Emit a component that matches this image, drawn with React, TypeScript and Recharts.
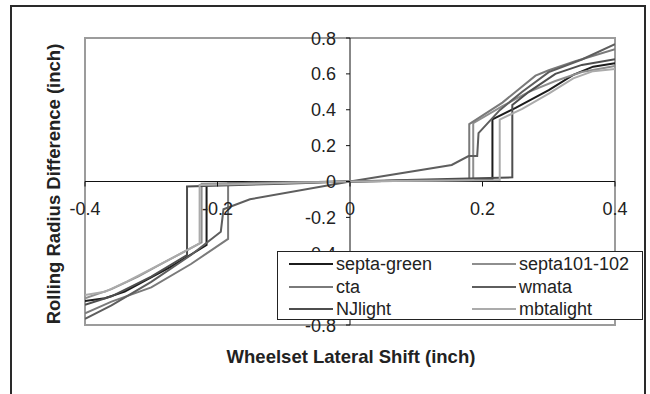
import React from 'react';
import { LineChart, Line, XAxis, YAxis, ReferenceLine, ReferenceArea } from 'recharts';

const xTicks = [-0.4, -0.2, 0, 0.2, 0.4];
const yTicks = [-0.8, -0.6, -0.4, -0.2, 0, 0.2, 0.4, 0.6, 0.8];

const seriesNames = ['septa-green', 'septa101-102', 'cta', 'wmata', 'NJlight', 'mbtalight'];
const seriesColors = ['#1c1c1c', '#8e8e8e', '#7a7a7a', '#5e5e5e', '#4e4e4e', '#ababab'];

const septaGreenX = [-0.4, -0.37, -0.34, -0.27, -0.2165, -0.2165, -0.1, 0, 0.1, 0.215, 0.215, 0.25, 0.3, 0.337, 0.367, 0.4];
const septaGreenY = [-0.666, -0.651, -0.614, -0.475, -0.354, -0.015, -0.007, 0, 0.006, 0.012, 0.347, 0.41, 0.51, 0.594, 0.64, 0.659];

const septa101X = [-0.4, -0.36, -0.32, -0.28, -0.224, -0.224, -0.1, 0, 0.1, 0.186, 0.186, 0.23, 0.27, 0.31, 0.35, 0.4];
const septa101Y = [-0.651, -0.6, -0.53, -0.45, -0.34, -0.012, -0.005, 0, 0.004, 0.008, 0.325, 0.42, 0.5, 0.56, 0.61, 0.644];

const ctaX = [-0.4, -0.36, -0.3, -0.24, -0.184, -0.184, -0.1, 0, 0.1, 0.18, 0.18, 0.23, 0.28, 0.3, 0.34, 0.4];
const ctaY = [-0.735, -0.67, -0.59, -0.46, -0.32, -0.01, -0.005, 0, 0.005, 0.01, 0.32, 0.44, 0.59, 0.62, 0.67, 0.737];

const wmataX = [-0.4, -0.36, -0.3, -0.24, -0.195, -0.191, -0.151, 0, 0.1535, 0.179, 0.192, 0.194, 0.226, 0.26, 0.3, 0.35, 0.4];
const wmataY = [-0.766, -0.69, -0.56, -0.41, -0.28, -0.155, -0.099, 0, 0.092, 0.142, 0.142, 0.27, 0.398, 0.5, 0.61, 0.68, 0.766];

const njLightX = [-0.4, -0.36, -0.3, -0.246, -0.246, -0.1, 0, 0.1, 0.245, 0.245, 0.27, 0.31, 0.35, 0.4];
const njLightY = [-0.688, -0.64, -0.53, -0.41, -0.028, -0.012, 0, 0.01, 0.023, 0.426, 0.5, 0.6, 0.65, 0.681];

const mbtaLightX = [-0.4, -0.37, -0.337, -0.28, -0.227, -0.227, -0.1, 0, 0.1, 0.226, 0.226, 0.26, 0.3, 0.337, 0.367, 0.4];
const mbtaLightY = [-0.633, -0.615, -0.558, -0.45, -0.345, -0.02, -0.009, 0, 0.004, 0.009, 0.345, 0.405, 0.49, 0.575, 0.615, 0.627];

const seriesX = [septaGreenX, septa101X, ctaX, wmataX, njLightX, mbtaLightX];
const seriesY = [septaGreenY, septa101Y, ctaY, wmataY, njLightY, mbtaLightY];

const W = 650;
const H = 394;
const PLOT_LEFT = 85;
const PLOT_TOP = 38;
const PLOT_W = 530;
const PLOT_H = 287;
const AXIS_SIZE = 20;
const ZERO_X = PLOT_LEFT + PLOT_W / 2;
const ZERO_Y = PLOT_TOP + PLOT_H / 2;
const FONT = '"Liberation Sans", Arial, Helvetica, sans-serif';
const TEXT = '#222';

const fmt = (v: number) => String(Math.round(v * 10) / 10);

const renderXTick = (props: any) => {
  const { x, payload } = props;
  return (
    <g key={`xt-${payload.value}`}>
      <line x1={x} y1={ZERO_Y} x2={x} y2={ZERO_Y + 5} stroke="#111" strokeWidth={1} />
      <text x={x} y={ZERO_Y + 33} textAnchor="middle" fontSize={18} fontFamily={FONT} fill={TEXT}>
        {fmt(payload.value)}
      </text>
    </g>
  );
};

const renderYTick = (props: any) => {
  const { y, payload } = props;
  return (
    <g key={`yt-${payload.value}`}>
      <line x1={ZERO_X - 4} y1={y} x2={ZERO_X} y2={y} stroke="#111" strokeWidth={1} />
      <text x={ZERO_X - 14} y={y + 6.5} textAnchor="end" fontSize={18} fontFamily={FONT} fill={TEXT}>
        {fmt(payload.value)}
      </text>
    </g>
  );
};

export default function App() {
  const series = seriesNames.map((name, i) => ({
    name,
    color: seriesColors[i],
    data: seriesX[i].map((x, j) => ({ x, y: seriesY[i][j] })),
  }));

  return (
    <div style={{ position: 'absolute', left: 0, top: 0, width: W, height: H, overflow: 'hidden', background: '#fff', fontFamily: FONT }}>
      <div style={{ position: 'absolute', left: 10, top: 5, width: 636, height: 430, border: '2px solid #2a2a2a', boxSizing: 'border-box' }} />
      <div style={{ position: 'absolute', left: 0, top: 0 }}>
        <LineChart
          width={W}
          height={H}
          margin={{
            top: PLOT_TOP,
            right: W - PLOT_LEFT - PLOT_W,
            bottom: H - PLOT_TOP - PLOT_H - AXIS_SIZE,
            left: PLOT_LEFT - AXIS_SIZE,
          }}
        >
          <XAxis
            dataKey="x"
            type="number"
            domain={[-0.4, 0.4]}
            ticks={xTicks}
            interval={0}
            allowDataOverflow
            axisLine={false}
            tickLine={false}
            height={AXIS_SIZE}
            tick={renderXTick}
          />
          <YAxis
            type="number"
            domain={[-0.8, 0.8]}
            ticks={yTicks}
            interval={0}
            allowDataOverflow
            axisLine={false}
            tickLine={false}
            width={AXIS_SIZE}
            tick={renderYTick}
          />
          <ReferenceArea x1={-0.4} x2={0.4} y1={-0.8} y2={0.8} fill="#fff" fillOpacity={0} stroke="#9c9c9c" strokeWidth={2} />
          <ReferenceLine x={0} stroke="#111" strokeWidth={1} />
          <ReferenceLine y={0} stroke="#111" strokeWidth={1} />
          {series.map((s) => (
            <Line
              key={s.name}
              data={s.data}
              dataKey="y"
              name={s.name}
              type="linear"
              stroke={s.color}
              strokeWidth={2}
              dot={false}
              activeDot={false}
              isAnimationActive={false}
            />
          ))}
        </LineChart>
      </div>
      <div
        style={{
          position: 'absolute',
          left: 0,
          top: 345.5,
          width: 702,
          height: 22,
          lineHeight: '22px',
          textAlign: 'center',
          fontWeight: 'bold',
          fontSize: 18.5,
          color: TEXT,
          whiteSpace: 'nowrap',
        }}
      >
        Wheelset Lateral Shift (inch)
      </div>
      <div
        style={{
          position: 'absolute',
          left: 54 - 160,
          top: 184 - 11,
          width: 320,
          height: 22,
          lineHeight: '22px',
          textAlign: 'center',
          fontWeight: 'bold',
          fontSize: 18.5,
          color: TEXT,
          whiteSpace: 'nowrap',
          transform: 'rotate(-90deg)',
        }}
      >
        Rolling Radius Difference (inch)
      </div>
      <div
        style={{
          position: 'absolute',
          left: 277,
          top: 251,
          width: 366,
          height: 69,
          border: '1.5px solid #222',
          boxSizing: 'border-box',
          background: '#fff',
        }}
      >
        {series.map((s, i) => {
          const col = i % 2;
          const row = Math.floor(i / 2);
          return (
            <div
              key={s.name}
              style={{
                position: 'absolute',
                left: col === 0 ? 11 : 194,
                top: 1 + row * 22.5,
                height: 22,
                display: 'flex',
                alignItems: 'center',
                whiteSpace: 'nowrap',
              }}
            >
              <svg width={44} height={4} style={{ display: 'block' }}>
                <line x1={0} y1={2} x2={44} y2={2} stroke={s.color} strokeWidth={2} />
              </svg>
              <span style={{ marginLeft: 3, fontSize: 18, color: TEXT, lineHeight: '22px' }}>{s.name}</span>
            </div>
          );
        })}
      </div>
    </div>
  );
}
